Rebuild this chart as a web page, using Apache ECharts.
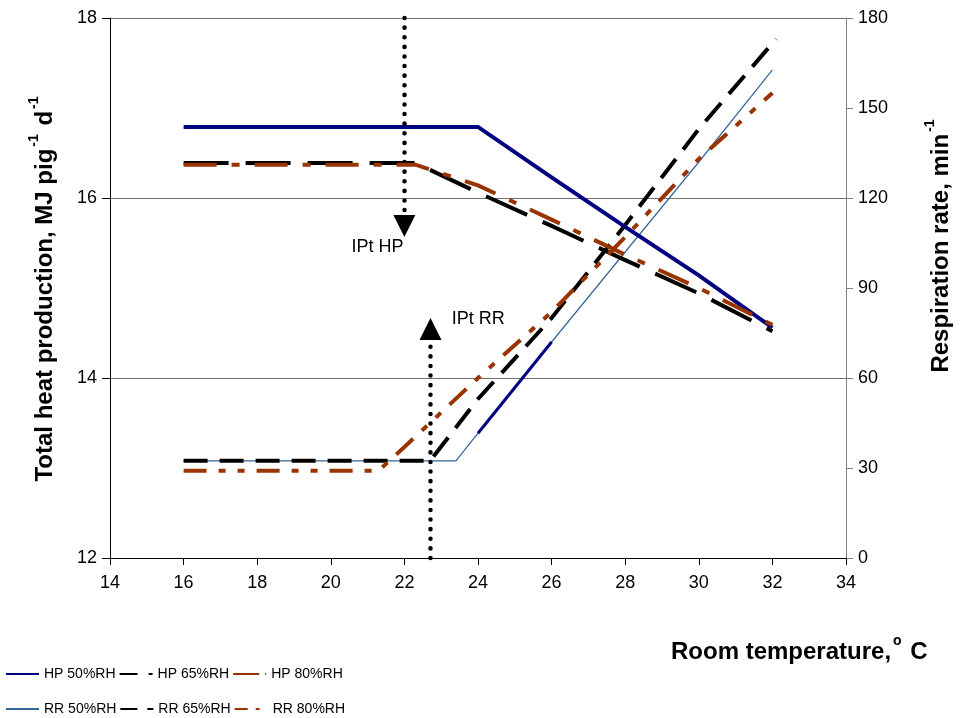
<!DOCTYPE html>
<html>
<head>
<meta charset="utf-8">
<script src="https://cdn.jsdelivr.net/npm/echarts@6/dist/echarts.min.js"></script>
<style>html,body{margin:0;padding:0;background:#fff}#c{width:961px;height:718px}</style>
</head>
<body>
<div id="c"></div>
<script>
// ---- data (room temperature, value) ----
const xTicks = [14, 16, 18, 20, 22, 24, 26, 28, 30, 32, 34];
const hpTicks = [12, 14, 16, 18];
const rrTicks = [0, 30, 60, 90, 120, 150, 180];

const hp50T = [16, 24, 26, 28, 30, 32];
const hp50V = [16.79, 16.79, 16.23, 15.68, 15.14, 14.56];
const hp65T = [16, 22.3, 24, 26, 28, 30, 32];
const hp65V = [16.39, 16.39, 16.06, 15.69, 15.31, 14.94, 14.52];
const hp80T = [16, 22.3, 24, 26, 28, 30, 32];
const hp80V = [16.37, 16.37, 16.14, 15.76, 15.37, 15.0, 14.59];

const rr50T = [16, 23.4, 24, 26, 28, 30, 32];
const rr50V = [32.4, 32.4, 41.6, 72, 102, 132, 162.7];
const rr50SegT = [24, 26];
const rr50SegV = [41.6, 72];
const rr65T = [16, 22.7, 24, 26, 28, 30, 32.1];
const rr65V = [32.4, 32.4, 53, 80, 111, 143, 173];
const rr80T = [16, 21.3, 22, 24, 26, 28, 30, 32];
const rr80V = [29.1, 29.1, 37, 60, 82, 107, 133, 155];

// inflection point annotations: [temperature, from, to]
const iptHP = [22.0, 18, 15.69];
const iptRR = [22.71, 0, 76.3];
const iptHPLabel = [21.27, 15.46];
const iptRRLabel = [24.01, 79.7];

const zip = (t, v) => t.map((x, i) => [x, v[i]]);

const NAVY = '#000080', BROWN = '#993300', STEEL = '#336699';
const FONT = 'Liberation Sans, Arial, sans-serif';

const chart = echarts.init(document.getElementById('c'), null, {renderer: 'canvas'});

function line(name, data, yIdx, color, width, type, z) {
  return {
    name, type: 'line', data, yAxisIndex: yIdx, symbol: 'none', showSymbol: false,
    lineStyle: {color, width, type, cap: 'butt', join: 'miter'},
    itemStyle: {color}, z: z, animation: false, silent: true
  };
}

const dotted = {color: '#000', width: 4.5, type: [0.1, 9.5], cap: 'round'};
const titleRich = {
  b: {fontSize: 24, fontWeight: 'bold', fontFamily: FONT, color: '#000', lineHeight: 30, verticalAlign: 'bottom'},
  s: {fontSize: 14, fontWeight: 'bold', fontFamily: FONT, color: '#000', lineHeight: 30, verticalAlign: 'top', padding: [0, 2, 11, 2]}
};

const legendBase = {
  left: 0, itemWidth: 33, itemHeight: 14, itemGap: 3,
  itemStyle: {opacity: 0},
  textStyle: {fontSize: 14, fontFamily: FONT, color: '#000'}
};

const option = {
  animation: false,
  textStyle: {fontFamily: FONT},
  grid: {left: 110, right: 113, top: 18, bottom: 160, containLabel: false},
  title: {
    text: '{b|Room temperature,}{s|o}{b| C}',
    left: 666, top: 629,
    textStyle: {rich: titleRich}
  },
  legend: [
    Object.assign({}, legendBase, {
      top: 662,
      data: [
        {name: 'HP 50%RH'},
        {name: 'HP 65%RH', lineStyle: {type: [18, 11]}},
        {name: 'HP 80%RH', lineStyle: {type: [26, 6, 4, 6]}}
      ]
    }),
    Object.assign({}, legendBase, {
      top: 697,
      data: [
        {name: 'RR 50%RH'},
        {name: 'RR 65%RH', lineStyle: {type: [17, 10]}},
        {name: 'RR 80%RH', lineStyle: {type: [13, 8, 4, 8]}}
      ]
    })
  ],
  xAxis: {
    type: 'value', min: xTicks[0], max: xTicks[xTicks.length - 1], interval: 2,
    axisLine: {show: true, lineStyle: {color: '#000', width: 1}},
    axisTick: {show: true, inside: false, length: 7, lineStyle: {color: '#000'}},
    axisLabel: {fontSize: 18, color: '#000', margin: 16, fontFamily: FONT},
    splitLine: {show: false}
  },
  yAxis: [
    {
      type: 'value', min: hpTicks[0], max: hpTicks[hpTicks.length - 1], interval: 2,
      name: '{b|Total heat production, MJ pig}{s|-1}{b| d}{s|-1}',
      nameLocation: 'middle', nameGap: 53, nameRotate: 90,
      nameTextStyle: {rich: titleRich},
      axisLine: {show: true, lineStyle: {color: '#000', width: 1}},
      axisTick: {show: true, inside: false, length: 8, lineStyle: {color: '#000'}},
      axisLabel: {fontSize: 18, color: '#000', margin: 13, fontFamily: FONT},
      splitLine: {show: true, lineStyle: {color: '#707070', width: 1}}
    },
    {
      type: 'value', position: 'right', min: rrTicks[0], max: rrTicks[rrTicks.length - 1], interval: 30,
      name: '{b|Respiration rate, min}{s|-1}',
      nameLocation: 'middle', nameGap: 77, nameRotate: 90,
      nameTextStyle: {padding: [0, 0, 0, 86], rich: titleRich},
      axisLine: {show: true, lineStyle: {color: '#808080', width: 1}},
      axisTick: {show: true, inside: false, length: 7, lineStyle: {color: '#808080'}},
      axisLabel: {fontSize: 18, color: '#000', margin: 12, fontFamily: FONT},
      splitLine: {show: false}
    }
  ],
  series: [
    line('HP 65%RH', zip(hp65T, hp65V), 0, '#000', 4, [45, 17], 3),
    line('HP 50%RH', zip(hp50T, hp50V), 0, NAVY, 4, 'solid', 4),
    line('HP 80%RH', zip(hp80T, hp80V), 0, BROWN, 4, [33, 15, 8, 15], 5),
    line('RR 50%RH', zip(rr50T, rr50V), 1, STEEL, 1.2, 'solid', 2),
    line('RR 50%RH segment', zip(rr50SegT, rr50SegV), 1, NAVY, 3, 'solid', 2),
    line('RR 65%RH', zip(rr65T, rr65V), 1, '#000', 4, [24, 12], 3),
    line('RR 80%RH', zip(rr80T, rr80V), 1, BROWN, 4, [23, 12, 7, 12, 7, 12], 5),
    {
      name: 'IPt HP', type: 'line', yAxisIndex: 0, data: [], silent: true, z: 6,
      markLine: {
        silent: true, animation: false, symbol: ['none', 'triangle'], symbolSize: 22,
        lineStyle: dotted, itemStyle: {color: '#000'}, label: {show: false},
        data: [[{coord: [iptHP[0], iptHP[1]]}, {coord: [iptHP[0], iptHP[2]]}]]
      },
      markPoint: {
        silent: true, animation: false, symbol: 'circle', symbolSize: 0,
        label: {show: true, position: 'inside', formatter: 'IPt HP', fontSize: 18, color: '#000', fontFamily: FONT},
        data: [{coord: iptHPLabel}]
      }
    },
    {
      name: 'IPt RR', type: 'line', yAxisIndex: 1, data: [], silent: true, z: 6,
      markLine: {
        silent: true, animation: false, symbol: ['none', 'triangle'], symbolSize: 22,
        lineStyle: dotted, itemStyle: {color: '#000'}, label: {show: false},
        data: [[{coord: [iptRR[0], iptRR[1]]}, {coord: [iptRR[0], iptRR[2]]}]]
      },
      markPoint: {
        silent: true, animation: false, symbol: 'circle', symbolSize: 0,
        label: {show: true, position: 'inside', formatter: 'IPt RR', fontSize: 18, color: '#000', fontFamily: FONT},
        data: [{coord: iptRRLabel}]
      }
    }
  ]
};
chart.setOption(option);
</script>
</body>
</html>
